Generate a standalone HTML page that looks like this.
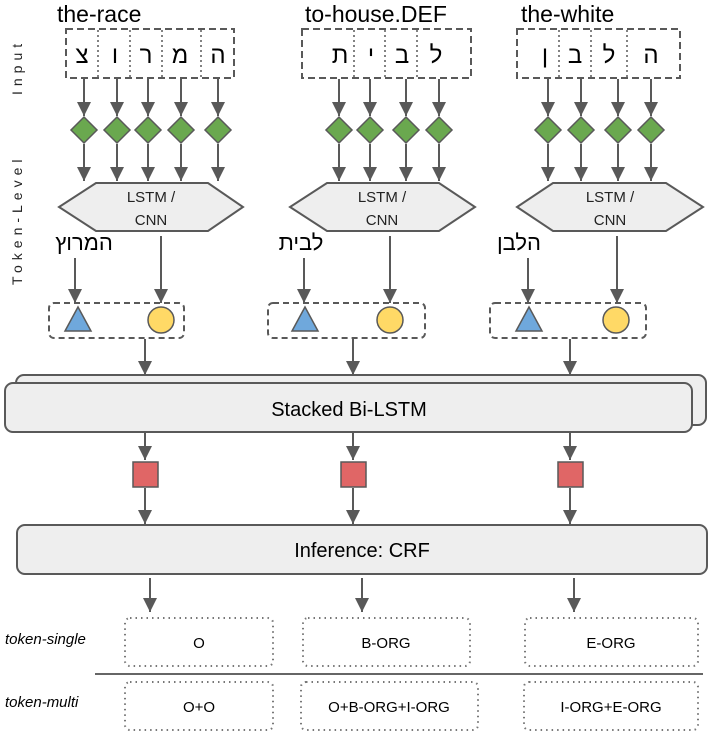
<!DOCTYPE html>
<html><head><meta charset="utf-8"><style>body{margin:0;background:#fff}svg{display:block}text{font-family:"Liberation Sans","Noto Sans CJK SC",sans-serif}</style></head><body>
<svg width="712" height="735" viewBox="0 0 712 735" xmlns="http://www.w3.org/2000/svg">
<defs><marker id="b" markerWidth="16" markerHeight="16" refX="14" refY="7" orient="auto" markerUnits="userSpaceOnUse"><path d="M0,0 L14,7 L0,14 z" fill="#595959"/></marker></defs>
<g font-size="23" fill="#000">
<text x="57" y="22">the-race</text><text x="305" y="22">to-house.DEF</text><text x="521" y="22">the-white</text></g>
<g font-size="14" fill="#222" letter-spacing="5">
<text transform="translate(22,95) rotate(-90)">Input</text>
<text transform="translate(22,285) rotate(-90)">Token-Level</text></g>
<g fill="none" stroke="#595959" stroke-width="2" stroke-dasharray="7,4">
<rect x="66" y="29" width="168" height="49"/><rect x="302" y="29" width="169" height="49"/><rect x="517" y="29" width="163" height="49"/></g>
<g stroke="#595959" stroke-width="1.5" stroke-dasharray="2,3">
<line x1="98" y1="30" x2="98" y2="77"/><line x1="130" y1="30" x2="130" y2="77"/><line x1="162" y1="30" x2="162" y2="77"/><line x1="201" y1="30" x2="201" y2="77"/>
<line x1="354" y1="30" x2="354" y2="77"/><line x1="385" y1="30" x2="385" y2="77"/><line x1="417" y1="30" x2="417" y2="77"/>
<line x1="559" y1="30" x2="559" y2="77"/><line x1="591" y1="30" x2="591" y2="77"/><line x1="627" y1="30" x2="627" y2="77"/></g>
<g font-size="24" fill="#000" text-anchor="middle">
<text x="82" y="63">צ</text><text x="115" y="63">ו</text><text x="146" y="63">ר</text><text x="180" y="63">מ</text><text x="218" y="63">ה</text>
<text x="340" y="63">ת</text><text x="371" y="63">י</text><text x="402" y="63">ב</text><text x="436" y="63">ל</text>
<text x="545" y="63">ן</text><text x="575" y="63">ב</text><text x="609" y="63">ל</text><text x="651" y="63">ה</text></g>
<g stroke="#595959" stroke-width="2" marker-end="url(#b)">
<line x1="84" y1="79" x2="84" y2="116"/><line x1="117" y1="79" x2="117" y2="116"/><line x1="148" y1="79" x2="148" y2="116"/><line x1="181" y1="79" x2="181" y2="116"/><line x1="218" y1="79" x2="218" y2="116"/>
<line x1="339" y1="79" x2="339" y2="116"/><line x1="370" y1="79" x2="370" y2="116"/><line x1="406" y1="79" x2="406" y2="116"/><line x1="439" y1="79" x2="439" y2="116"/>
<line x1="548" y1="79" x2="548" y2="116"/><line x1="581" y1="79" x2="581" y2="116"/><line x1="618" y1="79" x2="618" y2="116"/><line x1="651" y1="79" x2="651" y2="116"/>
<line x1="84" y1="144" x2="84" y2="181"/><line x1="117" y1="144" x2="117" y2="181"/><line x1="148" y1="144" x2="148" y2="181"/><line x1="181" y1="144" x2="181" y2="181"/><line x1="218" y1="144" x2="218" y2="181"/>
<line x1="339" y1="144" x2="339" y2="181"/><line x1="370" y1="144" x2="370" y2="181"/><line x1="406" y1="144" x2="406" y2="181"/><line x1="439" y1="144" x2="439" y2="181"/>
<line x1="548" y1="144" x2="548" y2="181"/><line x1="581" y1="144" x2="581" y2="181"/><line x1="618" y1="144" x2="618" y2="181"/><line x1="651" y1="144" x2="651" y2="181"/>
<line x1="75" y1="258" x2="75" y2="303"/><line x1="161" y1="236" x2="161" y2="303"/><line x1="304" y1="258" x2="304" y2="303"/><line x1="390" y1="236" x2="390" y2="303"/><line x1="528" y1="258" x2="528" y2="303"/><line x1="617" y1="236" x2="617" y2="303"/>
<line x1="145" y1="339" x2="145" y2="375"/><line x1="353" y1="339" x2="353" y2="375"/><line x1="570" y1="339" x2="570" y2="375"/>
<line x1="145" y1="433" x2="145" y2="460"/><line x1="353" y1="433" x2="353" y2="460"/><line x1="570" y1="433" x2="570" y2="460"/>
<line x1="145" y1="488" x2="145" y2="524"/><line x1="353" y1="488" x2="353" y2="524"/><line x1="570" y1="488" x2="570" y2="524"/>
<line x1="150" y1="578" x2="150" y2="612"/><line x1="362" y1="578" x2="362" y2="612"/><line x1="574" y1="578" x2="574" y2="612"/></g>
<g fill="#6aa84f" stroke="#595959" stroke-width="1.5">
<path d="M84,117l13,13l-13,13l-13,-13z"/><path d="M117,117l13,13l-13,13l-13,-13z"/><path d="M148,117l13,13l-13,13l-13,-13z"/><path d="M181,117l13,13l-13,13l-13,-13z"/><path d="M218,117l13,13l-13,13l-13,-13z"/>
<path d="M339,117l13,13l-13,13l-13,-13z"/><path d="M370,117l13,13l-13,13l-13,-13z"/><path d="M406,117l13,13l-13,13l-13,-13z"/><path d="M439,117l13,13l-13,13l-13,-13z"/>
<path d="M548,117l13,13l-13,13l-13,-13z"/><path d="M581,117l13,13l-13,13l-13,-13z"/><path d="M618,117l13,13l-13,13l-13,-13z"/><path d="M651,117l13,13l-13,13l-13,-13z"/></g>
<g fill="#eeeeee" stroke="#595959" stroke-width="2">
<path d="M96,183H208L243,207L208,231H96L59,207z"/><path d="M327,183H439L475,207L439,231H327L290,207z"/><path d="M553,183H666L703,207L666,231H553L517,207z"/></g>
<g font-size="15" fill="#222" text-anchor="middle"><text x="151" y="202">LSTM /</text><text x="151" y="225">CNN</text><text x="382" y="202">LSTM /</text><text x="382" y="225">CNN</text><text x="610" y="202">LSTM /</text><text x="610" y="225">CNN</text></g>
<g font-size="22" fill="#000" text-anchor="middle"><text x="84" y="250">המרוץ</text><text x="301" y="250">לבית</text><text x="519" y="250">הלבן</text></g>
<g fill="none" stroke="#595959" stroke-width="2" stroke-dasharray="6,4">
<rect x="49" y="303" width="135" height="35" rx="5"/><rect x="268" y="303" width="157" height="35" rx="5"/><rect x="490" y="303" width="156" height="35" rx="5"/></g>
<g stroke="#595959" stroke-width="1.5"><path d="M78,307L91,331H65z" fill="#6fa8dc"/><path d="M305,307L318,331H292z" fill="#6fa8dc"/><path d="M529,307L542,331H516z" fill="#6fa8dc"/>
<circle cx="161" cy="320" r="13" fill="#ffd966"/><circle cx="390" cy="320" r="13" fill="#ffd966"/><circle cx="616" cy="320" r="13" fill="#ffd966"/></g>
<g fill="#eeeeee" stroke="#595959" stroke-width="2">
<rect x="16" y="375" width="690" height="50" rx="8"/><rect x="5" y="383" width="687" height="49" rx="8"/>
<rect x="17" y="525" width="690" height="49" rx="8"/></g>
<g font-size="20" fill="#000" text-anchor="middle"><text x="349" y="416">Stacked Bi-LSTM</text><text x="362" y="557">Inference: CRF</text></g>
<g fill="#e06666" stroke="#595959" stroke-width="1.5"><rect x="133" y="462" width="25" height="25"/><rect x="341" y="462" width="25" height="25"/><rect x="558" y="462" width="25" height="25"/></g>
<g fill="none" stroke="#777" stroke-width="2" stroke-dasharray="1.5,4">
<rect x="125" y="618" width="148" height="48" rx="5"/><rect x="303" y="618" width="167" height="48" rx="5"/><rect x="525" y="618" width="173" height="48" rx="5"/>
<rect x="125" y="682" width="148" height="48" rx="5"/><rect x="301" y="682" width="177" height="48" rx="5"/><rect x="524" y="682" width="174" height="48" rx="5"/></g>
<line x1="95" y1="674" x2="703" y2="674" stroke="#666" stroke-width="2"/>
<g font-size="15" fill="#000" font-style="italic"><text x="5" y="644">token-single</text><text x="5" y="707">token-multi</text></g>
<g font-size="15" fill="#000" text-anchor="middle"><text x="199" y="648">O</text><text x="386" y="648">B-ORG</text><text x="611" y="648">E-ORG</text>
<text x="199" y="712">O+O</text><text x="389" y="712">O+B-ORG+I-ORG</text><text x="611" y="712">I-ORG+E-ORG</text></g>
</svg>
</body></html>
